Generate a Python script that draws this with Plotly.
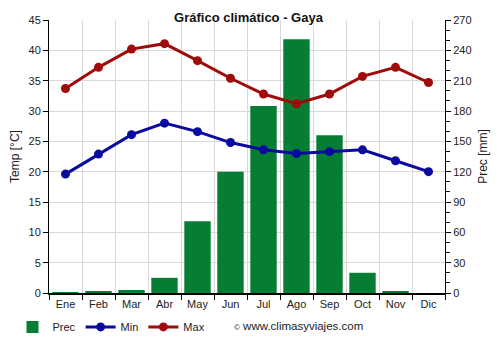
import plotly.graph_objects as go

months = ["Ene", "Feb", "Mar", "Abr", "May", "Jun", "Jul", "Ago", "Sep", "Oct", "Nov", "Dic"]
prec = [0.5, 1, 3, 15, 71, 120, 185, 251, 156, 20, 1, 0]
tmin = [19.6, 22.9, 26.1, 28.0, 26.6, 24.8, 23.6, 23.0, 23.3, 23.6, 21.8, 20.0]
tmax = [33.7, 37.2, 40.2, 41.1, 38.3, 35.4, 32.8, 31.2, 32.8, 35.7, 37.2, 34.7]

idx = list(range(len(months)))
font = "Liberation Sans, Arial, sans-serif"

fig = go.Figure()
fig.add_trace(go.Bar(x=idx, y=prec, name="Prec", marker_color="#057d32",
                     marker_line_width=0, width=0.8, yaxis="y"))
fig.add_trace(go.Scatter(x=idx, y=tmin, name="Min", mode="lines+markers",
                         line=dict(color="#0a0aa0", width=3),
                         marker=dict(size=9, color="#0a0aa0"), yaxis="y2"))
fig.add_trace(go.Scatter(x=idx, y=tmax, name="Max", mode="lines+markers",
                         line=dict(color="#a00a0a", width=3),
                         marker=dict(size=9, color="#a00a0a"), yaxis="y2"))

fig.update_layout(
    width=500, height=350,
    margin=dict(l=49, r=55, t=20, b=57, autoexpand=False),
    paper_bgcolor="white", plot_bgcolor="white",
    font=dict(family=font, size=11, color="#222"),
    title=dict(text="<b>Gráfico climático - Gaya</b>", x=0.497, xanchor="center",
               y=0.951, yanchor="middle", font=dict(size=13, color="#111")),
    showlegend=True,
    legend=dict(orientation="h", x=0.025, xref="container", y=0.066, yref="container",
                xanchor="left", yanchor="middle",
                font=dict(size=11), itemwidth=30, traceorder="normal"),
    bargap=0.2,
    xaxis=dict(range=[-0.5, 11.5], tickmode="array", tickvals=idx, ticktext=months,
               ticks="", showgrid=False, showline=True, linecolor="black", linewidth=2,
               zeroline=False, fixedrange=True, automargin=False,
               minor=dict(tickmode="linear", tick0=-0.5, dtick=1, showgrid=True,
                          gridcolor="#d9d9d9", gridwidth=1, ticks="outside",
                          ticklen=5, tickcolor="black")),
    yaxis=dict(side="right", range=[0, 270], dtick=30, showgrid=True,
               gridcolor="#d9d9d9", showline=True, linecolor="black", linewidth=1,
               ticks="outside", ticklen=5, tickcolor="black", zeroline=False,
               automargin=False,
               title=dict(text="Prec [mm]", font=dict(size=12), standoff=8),
               minor=dict(dtick=10, ticks="outside", ticklen=4, tickcolor="black",
                          showgrid=False)),
    yaxis2=dict(side="left", overlaying="y", range=[0, 45], dtick=5, showgrid=False,
                showline=True, linecolor="black", linewidth=1, ticks="outside",
                ticklen=5, tickcolor="black", zeroline=False, automargin=False,
                title=dict(text="Temp [°C]", font=dict(size=12), standoff=6)),
)

fig.add_annotation(text="<span style='font-size:8px'>©</span> www.climasyviajes.com",
                   xref="paper", yref="paper",
                   x=0.797, y=-0.121, xanchor="right", yanchor="middle",
                   showarrow=False, font=dict(size=11.5, color="#222"))

fig.write_html("out.html")
